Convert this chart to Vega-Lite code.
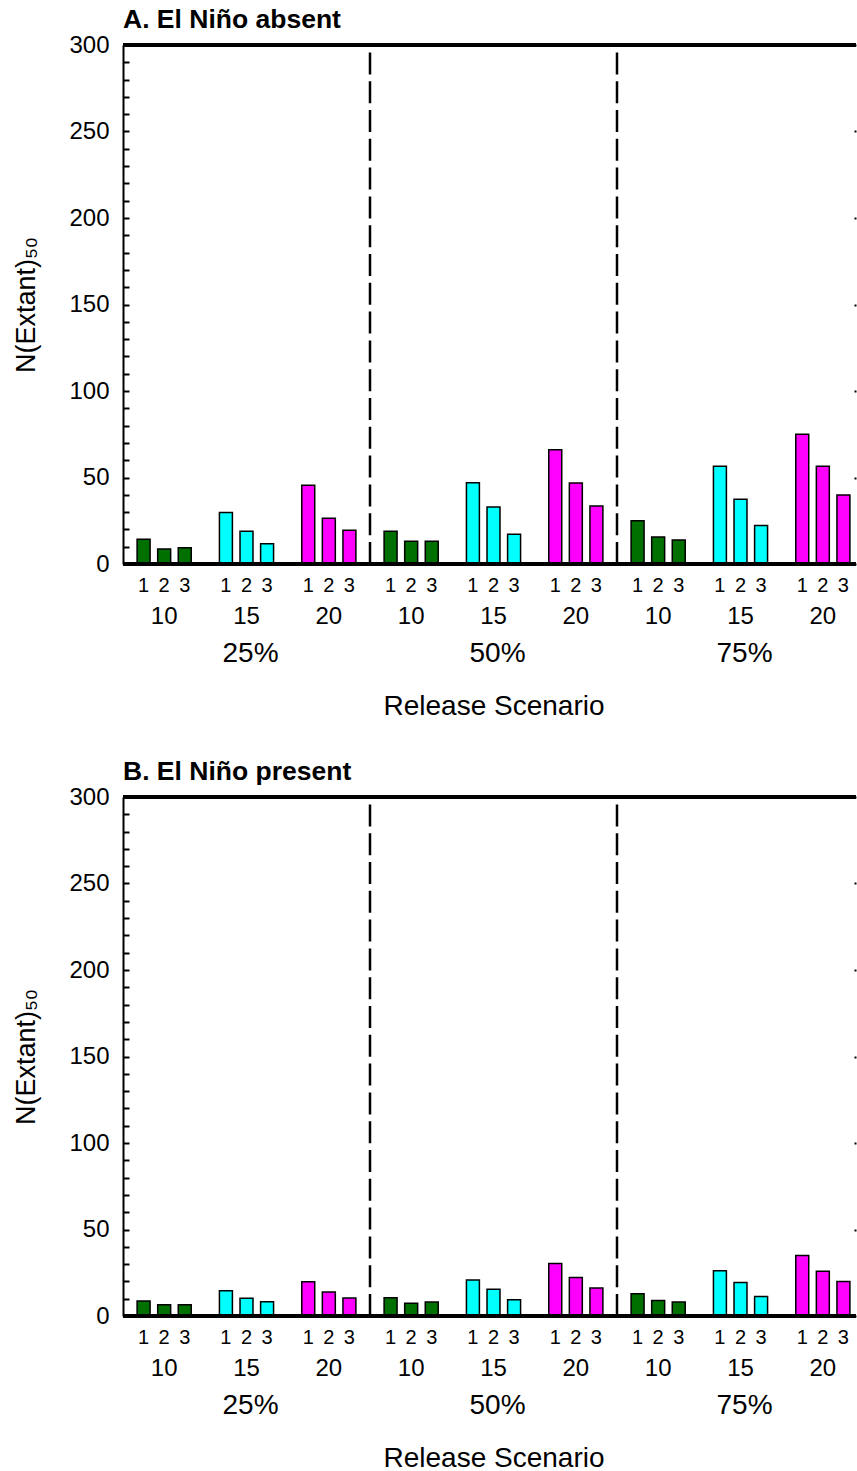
{
  "$schema": "https://vega.github.io/schema/vega-lite/v6.json",
  "padding": {"left": 12, "top": 6, "right": 0, "bottom": 0},
  "spacing": 38,
  "config": {
    "font": "Liberation Sans",
    "view": {"stroke": null},
    "axis": {"grid": false, "labelColor": "black", "titleColor": "black", "domainColor": "black", "tickColor": "black", "titleFontWeight": "normal"},
    "title": {"color": "black"}
  },
  "datasets": {
    "absent": [
      {"grp": "25%|10", "pct": "25%", "rel": "10", "scn": 1, "n": 14.3},
      {"grp": "25%|10", "pct": "25%", "rel": "10", "scn": 2, "n": 8.7},
      {"grp": "25%|10", "pct": "25%", "rel": "10", "scn": 3, "n": 9.4},
      {"grp": "25%|15", "pct": "25%", "rel": "15", "scn": 1, "n": 29.7},
      {"grp": "25%|15", "pct": "25%", "rel": "15", "scn": 2, "n": 18.9},
      {"grp": "25%|15", "pct": "25%", "rel": "15", "scn": 3, "n": 11.7},
      {"grp": "25%|20", "pct": "25%", "rel": "20", "scn": 1, "n": 45.5},
      {"grp": "25%|20", "pct": "25%", "rel": "20", "scn": 2, "n": 26.4},
      {"grp": "25%|20", "pct": "25%", "rel": "20", "scn": 3, "n": 19.5},
      {"grp": "50%|10", "pct": "50%", "rel": "10", "scn": 1, "n": 18.9},
      {"grp": "50%|10", "pct": "50%", "rel": "10", "scn": 2, "n": 13.1},
      {"grp": "50%|10", "pct": "50%", "rel": "10", "scn": 3, "n": 13.1},
      {"grp": "50%|15", "pct": "50%", "rel": "15", "scn": 1, "n": 47.0},
      {"grp": "50%|15", "pct": "50%", "rel": "15", "scn": 2, "n": 32.9},
      {"grp": "50%|15", "pct": "50%", "rel": "15", "scn": 3, "n": 17.2},
      {"grp": "50%|20", "pct": "50%", "rel": "20", "scn": 1, "n": 66.1},
      {"grp": "50%|20", "pct": "50%", "rel": "20", "scn": 2, "n": 46.8},
      {"grp": "50%|20", "pct": "50%", "rel": "20", "scn": 3, "n": 33.5},
      {"grp": "75%|10", "pct": "75%", "rel": "10", "scn": 1, "n": 25.0},
      {"grp": "75%|10", "pct": "75%", "rel": "10", "scn": 2, "n": 15.6},
      {"grp": "75%|10", "pct": "75%", "rel": "10", "scn": 3, "n": 13.9},
      {"grp": "75%|15", "pct": "75%", "rel": "15", "scn": 1, "n": 56.5},
      {"grp": "75%|15", "pct": "75%", "rel": "15", "scn": 2, "n": 37.4},
      {"grp": "75%|15", "pct": "75%", "rel": "15", "scn": 3, "n": 22.2},
      {"grp": "75%|20", "pct": "75%", "rel": "20", "scn": 1, "n": 75.0},
      {"grp": "75%|20", "pct": "75%", "rel": "20", "scn": 2, "n": 56.5},
      {"grp": "75%|20", "pct": "75%", "rel": "20", "scn": 3, "n": 39.9}
    ],
    "present": [
      {"grp": "25%|10", "pct": "25%", "rel": "10", "scn": 1, "n": 8.7},
      {"grp": "25%|10", "pct": "25%", "rel": "10", "scn": 2, "n": 6.5},
      {"grp": "25%|10", "pct": "25%", "rel": "10", "scn": 3, "n": 6.5},
      {"grp": "25%|15", "pct": "25%", "rel": "15", "scn": 1, "n": 14.6},
      {"grp": "25%|15", "pct": "25%", "rel": "15", "scn": 2, "n": 10.2},
      {"grp": "25%|15", "pct": "25%", "rel": "15", "scn": 3, "n": 8.3},
      {"grp": "25%|20", "pct": "25%", "rel": "20", "scn": 1, "n": 19.8},
      {"grp": "25%|20", "pct": "25%", "rel": "20", "scn": 2, "n": 13.9},
      {"grp": "25%|20", "pct": "25%", "rel": "20", "scn": 3, "n": 10.4},
      {"grp": "50%|10", "pct": "50%", "rel": "10", "scn": 1, "n": 10.6},
      {"grp": "50%|10", "pct": "50%", "rel": "10", "scn": 2, "n": 7.3},
      {"grp": "50%|10", "pct": "50%", "rel": "10", "scn": 3, "n": 8.1},
      {"grp": "50%|15", "pct": "50%", "rel": "15", "scn": 1, "n": 20.8},
      {"grp": "50%|15", "pct": "50%", "rel": "15", "scn": 2, "n": 15.4},
      {"grp": "50%|15", "pct": "50%", "rel": "15", "scn": 3, "n": 9.4},
      {"grp": "50%|20", "pct": "50%", "rel": "20", "scn": 1, "n": 30.3},
      {"grp": "50%|20", "pct": "50%", "rel": "20", "scn": 2, "n": 22.2},
      {"grp": "50%|20", "pct": "50%", "rel": "20", "scn": 3, "n": 16.2},
      {"grp": "75%|10", "pct": "75%", "rel": "10", "scn": 1, "n": 12.9},
      {"grp": "75%|10", "pct": "75%", "rel": "10", "scn": 2, "n": 8.9},
      {"grp": "75%|10", "pct": "75%", "rel": "10", "scn": 3, "n": 8.1},
      {"grp": "75%|15", "pct": "75%", "rel": "15", "scn": 1, "n": 26.1},
      {"grp": "75%|15", "pct": "75%", "rel": "15", "scn": 2, "n": 19.3},
      {"grp": "75%|15", "pct": "75%", "rel": "15", "scn": 3, "n": 11.2},
      {"grp": "75%|20", "pct": "75%", "rel": "20", "scn": 1, "n": 34.9},
      {"grp": "75%|20", "pct": "75%", "rel": "20", "scn": 2, "n": 25.9},
      {"grp": "75%|20", "pct": "75%", "rel": "20", "scn": 3, "n": 19.9}
    ],
    "separators": [
      {"grp": "25%|20"},
      {"grp": "50%|20"}
    ]
  },
  "vconcat": [
    {
      "title": {"text": "A. El Niño absent", "anchor": "start", "frame": "group", "fontSize": 26.5, "fontWeight": "bold", "offset": 0},
      "width": 733,
      "height": 519,
      "data": {"name": "absent"},
      "resolve": {"axis": {"y": "independent"}},
      "layer": [
        {
          "mark": {"type": "bar", "stroke": "black", "strokeWidth": 1.5},
          "encoding": {
            "x": {"field": "grp", "type": "nominal",
              "scale": {"domain": ["25%|10", "25%|15", "25%|20", "50%|10", "50%|15", "50%|20", "75%|10", "75%|15", "75%|20"], "range": [0, 741], "paddingInner": 0, "paddingOuter": 0},
              "axis": {"title": "Release Scenario", "labelExpr": "split(datum.label, '|')[1]", "labelAngle": 0, "ticks": false, "domain": false, "labelFontSize": 24, "labelPadding": 40, "titleFontSize": 28, "titlePadding": 64}},
            "xOffset": {"field": "scn", "type": "nominal", "scale": {"domain": [1, 2, 3], "paddingInner": 0.37, "paddingOuter": 0.685}},
            "y": {"field": "n", "type": "quantitative", "scale": {"domain": [0, 300], "nice": false},
              "axis": {"orient": "left", "title": "N(Extant)₅₀", "values": [0, 10, 20, 30, 40, 50, 60, 70, 80, 90, 100, 110, 120, 130, 140, 150, 160, 170, 180, 190, 200, 210, 220, 230, 240, 250, 260, 270, 280, 290, 300], "labelExpr": "datum.value % 50 === 0 ? datum.label : ''", "labelOverlap": false, "tickSize": -6, "tickWidth": 2, "domainWidth": 2, "labelFontSize": 24, "labelPadding": 20, "titleFontSize": 27, "titlePadding": 28}},
            "color": {"field": "rel", "type": "nominal", "scale": {"domain": ["10", "15", "20"], "range": ["#007000", "#00ffff", "#ff00ff"]}, "legend": null}
          }
        },
        {
          "mark": {"type": "text", "dy": 22, "fontSize": 20, "baseline": "middle", "color": "black"},
          "encoding": {
            "x": {"field": "grp", "type": "nominal", "scale": {"domain": ["25%|10", "25%|15", "25%|20", "50%|10", "50%|15", "50%|20", "75%|10", "75%|15", "75%|20"], "range": [0, 741], "paddingInner": 0, "paddingOuter": 0},
              "axis": {"title": "Release Scenario", "labelExpr": "split(datum.label, '|')[1]", "labelAngle": 0, "ticks": false, "domain": false, "labelFontSize": 24, "labelPadding": 40, "titleFontSize": 28, "titlePadding": 64}},
            "xOffset": {"field": "scn", "type": "nominal", "scale": {"domain": [1, 2, 3], "paddingInner": 0.37, "paddingOuter": 0.685}},
            "y": {"datum": 0, "axis": null},
            "text": {"field": "scn", "type": "nominal"}
          }
        },
        {
          "transform": [{"filter": "datum.scn == 2 && datum.rel == '15'"}],
          "mark": {"type": "text", "dx": 4, "dy": 90, "fontSize": 28, "baseline": "middle", "color": "black"},
          "encoding": {
            "x": {"field": "grp", "type": "nominal", "scale": {"domain": ["25%|10", "25%|15", "25%|20", "50%|10", "50%|15", "50%|20", "75%|10", "75%|15", "75%|20"], "range": [0, 741], "paddingInner": 0, "paddingOuter": 0},
              "axis": {"title": "Release Scenario", "labelExpr": "split(datum.label, '|')[1]", "labelAngle": 0, "ticks": false, "domain": false, "labelFontSize": 24, "labelPadding": 40, "titleFontSize": 28, "titlePadding": 64}},
            "y": {"datum": 0, "axis": null},
            "text": {"field": "pct", "type": "nominal"}
          }
        },
        {
          "data": {"name": "separators"},
          "mark": {"type": "rule", "color": "black", "strokeWidth": 2.5, "strokeDash": [22, 6.8]},
          "encoding": {
            "x": {"field": "grp", "type": "nominal", "bandPosition": 1, "scale": {"domain": ["25%|10", "25%|15", "25%|20", "50%|10", "50%|15", "50%|20", "75%|10", "75%|15", "75%|20"], "range": [0, 741], "paddingInner": 0, "paddingOuter": 0},
              "axis": {"title": "Release Scenario", "labelExpr": "split(datum.label, '|')[1]", "labelAngle": 0, "ticks": false, "domain": false, "labelFontSize": 24, "labelPadding": 40, "titleFontSize": 28, "titlePadding": 64}},
            "y": {"datum": 0, "axis": null},
            "y2": {"datum": 296}
          }
        },
        {
          "mark": {"type": "rule", "color": "black", "strokeWidth": 3},
          "encoding": {
            "y": {"datum": 300, "axis": {"orient": "right", "title": null, "values": [0, 50, 100, 150, 200, 250, 300], "labels": false, "domain": false, "tickSize": -2, "tickWidth": 2}}
          }
        },
        {
          "mark": {"type": "rule", "color": "black", "strokeWidth": 2.5},
          "encoding": {
            "y": {"datum": 0, "axis": null}
          }
        }
      ]
    },
    {
      "title": {"text": "B. El Niño present", "anchor": "start", "frame": "group", "fontSize": 26.5, "fontWeight": "bold", "offset": 0},
      "width": 733,
      "height": 519,
      "data": {"name": "present"},
      "resolve": {"axis": {"y": "independent"}},
      "layer": [
        {
          "mark": {"type": "bar", "stroke": "black", "strokeWidth": 1.5},
          "encoding": {
            "x": {"field": "grp", "type": "nominal",
              "scale": {"domain": ["25%|10", "25%|15", "25%|20", "50%|10", "50%|15", "50%|20", "75%|10", "75%|15", "75%|20"], "range": [0, 741], "paddingInner": 0, "paddingOuter": 0},
              "axis": {"title": "Release Scenario", "labelExpr": "split(datum.label, '|')[1]", "labelAngle": 0, "ticks": false, "domain": false, "labelFontSize": 24, "labelPadding": 40, "titleFontSize": 28, "titlePadding": 64}},
            "xOffset": {"field": "scn", "type": "nominal", "scale": {"domain": [1, 2, 3], "paddingInner": 0.37, "paddingOuter": 0.685}},
            "y": {"field": "n", "type": "quantitative", "scale": {"domain": [0, 300], "nice": false},
              "axis": {"orient": "left", "title": "N(Extant)₅₀", "values": [0, 10, 20, 30, 40, 50, 60, 70, 80, 90, 100, 110, 120, 130, 140, 150, 160, 170, 180, 190, 200, 210, 220, 230, 240, 250, 260, 270, 280, 290, 300], "labelExpr": "datum.value % 50 === 0 ? datum.label : ''", "labelOverlap": false, "tickSize": -6, "tickWidth": 2, "domainWidth": 2, "labelFontSize": 24, "labelPadding": 20, "titleFontSize": 27, "titlePadding": 28}},
            "color": {"field": "rel", "type": "nominal", "scale": {"domain": ["10", "15", "20"], "range": ["#007000", "#00ffff", "#ff00ff"]}, "legend": null}
          }
        },
        {
          "mark": {"type": "text", "dy": 22, "fontSize": 20, "baseline": "middle", "color": "black"},
          "encoding": {
            "x": {"field": "grp", "type": "nominal", "scale": {"domain": ["25%|10", "25%|15", "25%|20", "50%|10", "50%|15", "50%|20", "75%|10", "75%|15", "75%|20"], "range": [0, 741], "paddingInner": 0, "paddingOuter": 0},
              "axis": {"title": "Release Scenario", "labelExpr": "split(datum.label, '|')[1]", "labelAngle": 0, "ticks": false, "domain": false, "labelFontSize": 24, "labelPadding": 40, "titleFontSize": 28, "titlePadding": 64}},
            "xOffset": {"field": "scn", "type": "nominal", "scale": {"domain": [1, 2, 3], "paddingInner": 0.37, "paddingOuter": 0.685}},
            "y": {"datum": 0, "axis": null},
            "text": {"field": "scn", "type": "nominal"}
          }
        },
        {
          "transform": [{"filter": "datum.scn == 2 && datum.rel == '15'"}],
          "mark": {"type": "text", "dx": 4, "dy": 90, "fontSize": 28, "baseline": "middle", "color": "black"},
          "encoding": {
            "x": {"field": "grp", "type": "nominal", "scale": {"domain": ["25%|10", "25%|15", "25%|20", "50%|10", "50%|15", "50%|20", "75%|10", "75%|15", "75%|20"], "range": [0, 741], "paddingInner": 0, "paddingOuter": 0},
              "axis": {"title": "Release Scenario", "labelExpr": "split(datum.label, '|')[1]", "labelAngle": 0, "ticks": false, "domain": false, "labelFontSize": 24, "labelPadding": 40, "titleFontSize": 28, "titlePadding": 64}},
            "y": {"datum": 0, "axis": null},
            "text": {"field": "pct", "type": "nominal"}
          }
        },
        {
          "data": {"name": "separators"},
          "mark": {"type": "rule", "color": "black", "strokeWidth": 2.5, "strokeDash": [22, 6.8]},
          "encoding": {
            "x": {"field": "grp", "type": "nominal", "bandPosition": 1, "scale": {"domain": ["25%|10", "25%|15", "25%|20", "50%|10", "50%|15", "50%|20", "75%|10", "75%|15", "75%|20"], "range": [0, 741], "paddingInner": 0, "paddingOuter": 0},
              "axis": {"title": "Release Scenario", "labelExpr": "split(datum.label, '|')[1]", "labelAngle": 0, "ticks": false, "domain": false, "labelFontSize": 24, "labelPadding": 40, "titleFontSize": 28, "titlePadding": 64}},
            "y": {"datum": 0, "axis": null},
            "y2": {"datum": 296}
          }
        },
        {
          "mark": {"type": "rule", "color": "black", "strokeWidth": 3},
          "encoding": {
            "y": {"datum": 300, "axis": {"orient": "right", "title": null, "values": [0, 50, 100, 150, 200, 250, 300], "labels": false, "domain": false, "tickSize": -2, "tickWidth": 2}}
          }
        },
        {
          "mark": {"type": "rule", "color": "black", "strokeWidth": 2.5},
          "encoding": {
            "y": {"datum": 0, "axis": null}
          }
        }
      ]
    }
  ]
}
